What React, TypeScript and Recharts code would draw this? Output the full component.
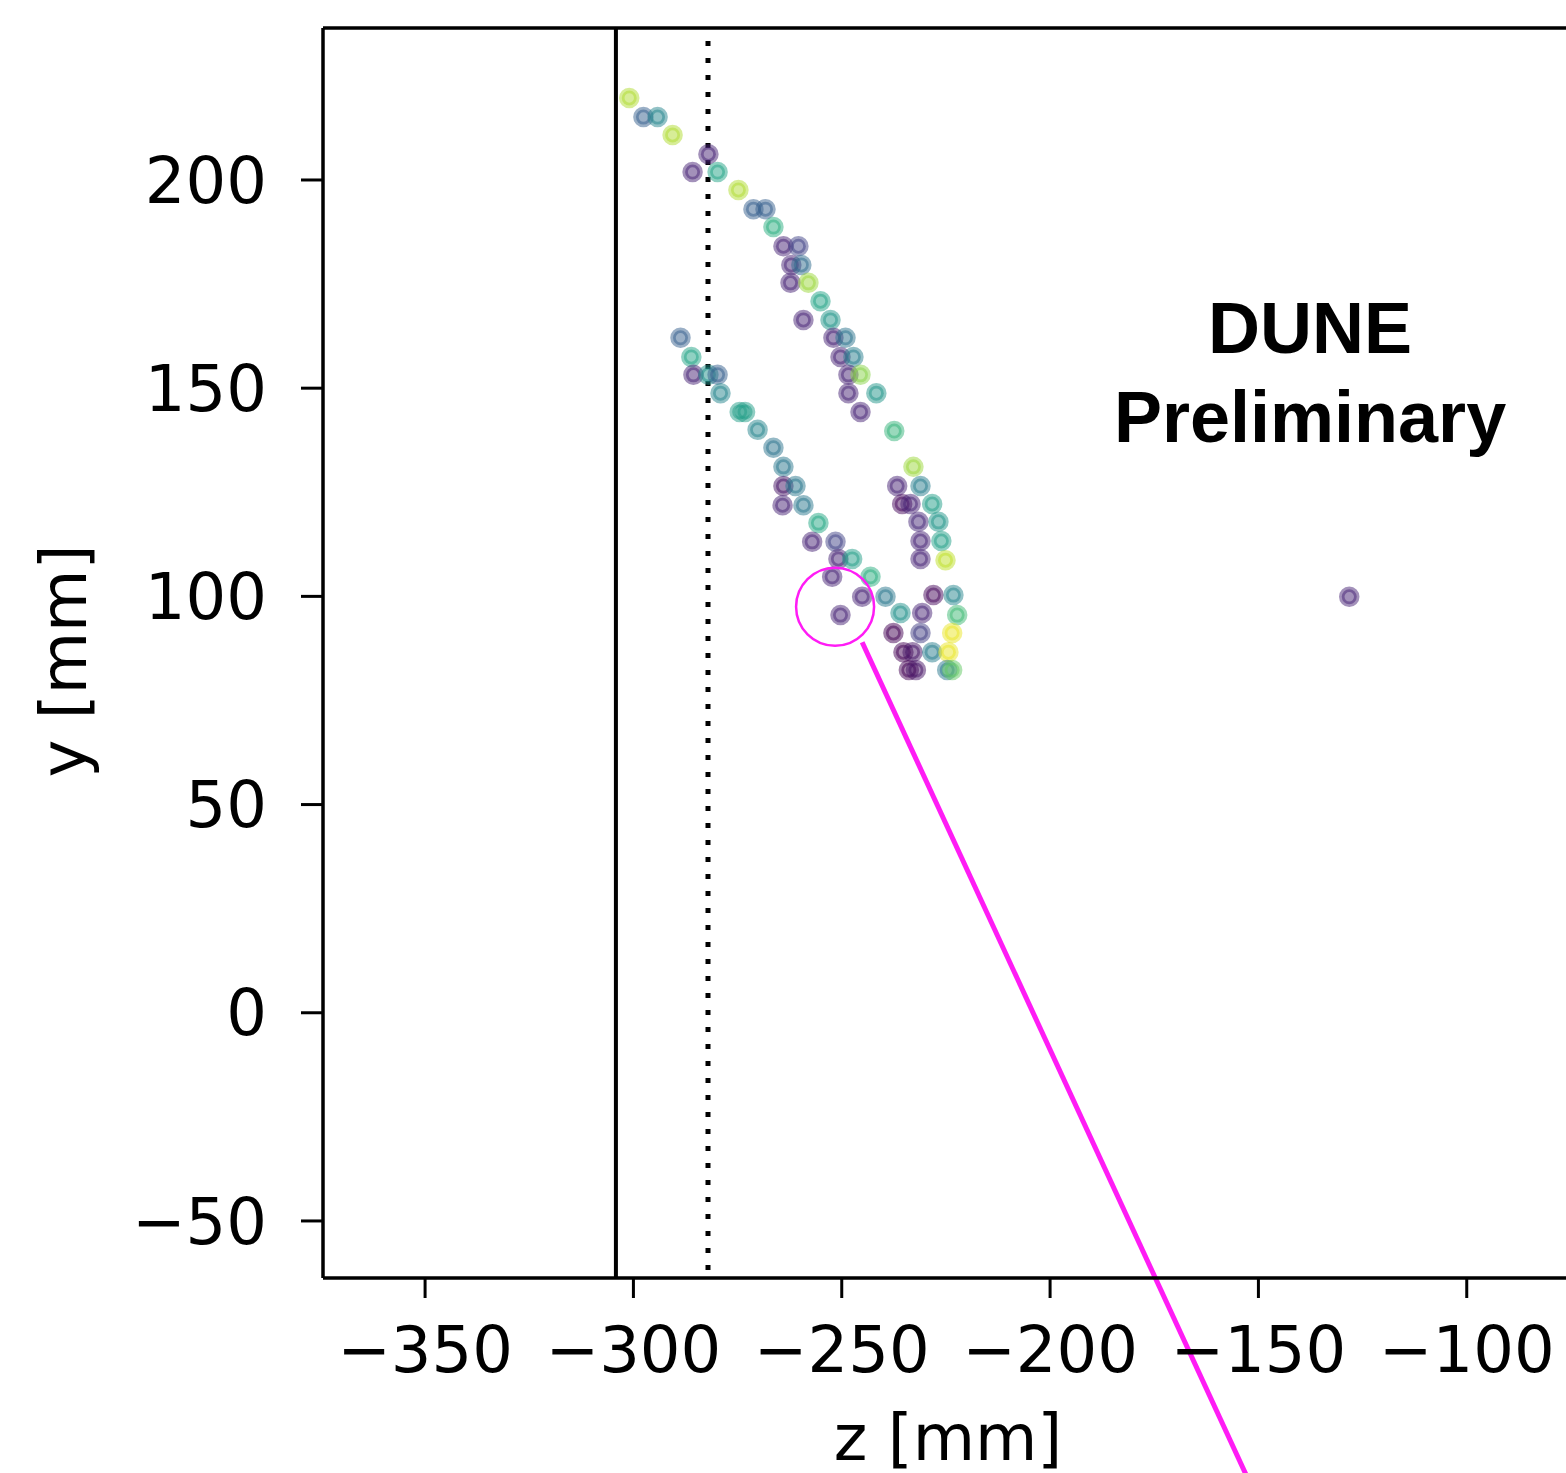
import React from 'react';
import { ScatterChart, Scatter, XAxis, YAxis, ReferenceLine, ReferenceDot } from 'recharts';

// Hit positions (z, y in mm) and normalised charge (0..1, viridis colour scale)
const hitZ = [
  -301.0, -297.6, -294.2, -290.6, -282.0, -285.8, -279.8, -274.8, -271.2, -268.3,
  -266.4, -264.0, -260.4, -262.1, -259.7, -262.3, -258.0, -255.1, -259.2, -252.7,
  -252.0, -249.1, -250.3, -247.2, -248.4, -245.5, -248.4, -241.7, -245.5, -237.4,
  -232.8, -236.7, -231.1, -235.5, -233.5, -228.3, -231.6, -226.8, -231.1, -226.1,
  -231.1, -225.1,
  -228.0, -223.2, -222.3, -235.9, -230.7, -237.6, -231.1, -223.5, -235.2, -233.0,
  -228.3, -224.4, -233.9, -232.2, -224.7, -223.5,
  -288.7, -286.1, -285.6, -282.0, -279.8, -279.1, -274.5, -273.2, -270.2, -266.4,
  -264.0, -264.0, -261.1, -264.2, -259.2, -255.6, -257.1, -251.5, -250.8, -247.5,
  -243.1, -252.3, -245.1, -239.5, -250.3,
  -128.2,
];
const hitY = [
  219.7, 215.1, 215.1, 210.8, 206.2, 201.9, 201.9, 197.6, 193.0, 193.0,
  188.7, 184.1, 184.1, 179.6, 179.6, 175.3, 175.3, 170.9, 166.4, 166.4,
  162.1, 162.1, 157.5, 157.5, 153.2, 153.2, 148.8, 148.8, 144.3, 139.7,
  131.1, 126.5, 126.5, 122.2, 122.2, 122.2, 117.9, 117.9, 113.3, 113.3,
  109.0, 108.7,
  100.3, 100.3, 95.5, 96.0, 96.0, 91.2, 91.2, 91.2, 86.6, 86.6,
  86.6, 86.6, 82.3, 82.3, 82.3, 82.3,
  162.1, 157.5, 153.2, 153.2, 153.2, 148.8, 144.3, 144.3, 140.0, 135.7,
  131.1, 126.5, 126.5, 121.9, 121.9, 117.6, 113.1, 113.1, 109.0, 109.0,
  104.7, 104.7, 99.9, 99.9, 95.5,
  99.9,
];
const hitQ = [
  0.88, 0.3, 0.45, 0.88, 0.1, 0.1, 0.58, 0.88, 0.3, 0.3,
  0.62, 0.1, 0.2, 0.1, 0.35, 0.1, 0.85, 0.58, 0.1, 0.52,
  0.1, 0.38, 0.1, 0.42, 0.1, 0.82, 0.1, 0.52, 0.1, 0.65,
  0.85, 0.1, 0.42, 0.02, 0.1, 0.55, 0.12, 0.52, 0.1, 0.56,
  0.1, 0.9,
  0.02, 0.45, 0.68, 0.5, 0.1, 0.0, 0.18, 0.97, 0.0, 0.05,
  0.42, 0.97, 0.0, 0.05, 0.4, 0.75,
  0.3, 0.58, 0.1, 0.5, 0.3, 0.45, 0.55, 0.55, 0.45, 0.38,
  0.4, 0.05, 0.4, 0.1, 0.4, 0.6, 0.1, 0.2, 0.1, 0.55,
  0.62, 0.1, 0.1, 0.4, 0.1,
  0.1,
];

const xTicks = [-350, -300, -250, -200, -150, -100];
const yTicks = [-50, 0, 50, 100, 150, 200];
const xDomain: [number, number] = [-374.5, -74.5];
const yDomain: [number, number] = [-63.7, 236.5];

const boundaryZ = -304.2;
const fiducialZ = -282.1;
const highlightZ = -251.6;
const highlightY = 97.5;
const pointerSegment = [
  { x: -245.1, y: 89.0 },
  { x: -151.1, y: -115.0 },
];
const annotationZ = -137.6;
const annotationY = 158.45;
const annotationLines = ['DUNE', 'Preliminary'];

const viridisStops = [
  '#440154', '#482475', '#414487', '#355f8d', '#2a788e', '#21918c',
  '#22a884', '#44bf70', '#7ad151', '#bddf26', '#fde725',
];

function hexToRgb(h: string) {
  return [parseInt(h.slice(1, 3), 16), parseInt(h.slice(3, 5), 16), parseInt(h.slice(5, 7), 16)];
}
function viridis(t: number) {
  const v = Math.max(0, Math.min(1, t)) * (viridisStops.length - 1);
  const i = Math.min(Math.floor(v), viridisStops.length - 2);
  const f = v - i;
  const a = hexToRgb(viridisStops[i]);
  const b = hexToRgb(viridisStops[i + 1]);
  const c = a.map((av, k) => Math.round(av + (b[k] - av) * f));
  return `rgb(${c[0]},${c[1]},${c[2]})`;
}

const hits = hitZ.map((z, i) => ({ z, y: hitY[i], q: hitQ[i] }));

const fmt = (v: number) => (v < 0 ? '\u2212' + Math.abs(v) : String(v));

const HitShape = (props: any) => {
  const { cx, cy, payload } = props;
  const c = viridis(payload.q);
  return (
    <circle cx={cx} cy={cy} r={7.5} fill={c} fillOpacity={0.5} stroke={c} strokeOpacity={0.5} strokeWidth={5.5} />
  );
};

const AnnotationShape = (props: any) => {
  const { cx, cy } = props;
  return (
    <g>
      {annotationLines.map((t, i) => (
        <text
          key={t}
          x={cx}
          y={cy + i * 89}
          textAnchor="middle"
          fontFamily="'Liberation Sans', Arial, Helvetica, sans-serif"
          fontWeight="bold"
          fontSize={72}
          fill="#000"
        >
          {t}
        </text>
      ))}
    </g>
  );
};

const font = "'DejaVu Sans', sans-serif";

const YLabel = (props: any) => {
  const vb = props.viewBox;
  const x = vb.x + 86;
  const y = vb.y + vb.height / 2 + 8;
  return (
    <text x={x} y={y} transform={`rotate(-90, ${x}, ${y})`} textAnchor="middle" fontFamily={font} fontSize={64} fill="#000">
      y [mm]
    </text>
  );
};

export default function App() {
  return (
    <div style={{ position: 'absolute', left: 0, top: 0, width: 1566, height: 1473, overflow: 'hidden', background: '#fff' }}>
      <ScatterChart width={1600} height={1473} margin={{ top: 28, right: 27, bottom: 0, left: 0 }}>
        <XAxis
          type="number"
          dataKey="z"
          domain={xDomain}
          ticks={xTicks}
          allowDataOverflow
          height={195}
          tickSize={20}
          tickMargin={29}
          tickFormatter={fmt}
          tick={{ fontSize: 64, fill: '#000', fontFamily: font }}
          axisLine={{ stroke: '#000', strokeWidth: 3.5 }}
          tickLine={{ stroke: '#000', strokeWidth: 3 }}
          label={{ value: 'z [mm]', position: 'insideBottom', offset: 13, fontSize: 64, fill: '#000', fontFamily: font }}
        />
        <YAxis
          type="number"
          dataKey="y"
          domain={yDomain}
          ticks={yTicks}
          allowDataOverflow
          width={323}
          tickSize={22}
          tickMargin={34}
          tickFormatter={fmt}
          tick={{ fontSize: 64, fill: '#000', fontFamily: font }}
          axisLine={{ stroke: '#000', strokeWidth: 3.5 }}
          tickLine={{ stroke: '#000', strokeWidth: 3 }}
          label={{ content: YLabel }}
        />
        <ReferenceLine y={yDomain[1]} stroke="#000" strokeWidth={3.5} ifOverflow="visible" />
        <ReferenceLine x={boundaryZ} stroke="#000" strokeWidth={4} />
        <ReferenceLine x={fiducialZ} stroke="#000" strokeWidth={5} strokeDasharray="5 12" strokeDashoffset={-8} />
        <Scatter data={hits} isAnimationActive={false} shape={HitShape} />
        <ReferenceDot x={highlightZ} y={highlightY} r={39} fill="none" stroke="#ff1cf5" strokeWidth={2.5} ifOverflow="visible" />
        <ReferenceLine segment={pointerSegment} stroke="#ff1cf5" strokeWidth={5} ifOverflow="visible" />
        <ReferenceDot x={annotationZ} y={annotationY} r={0} shape={AnnotationShape} ifOverflow="visible" />
      </ScatterChart>
    </div>
  );
}
